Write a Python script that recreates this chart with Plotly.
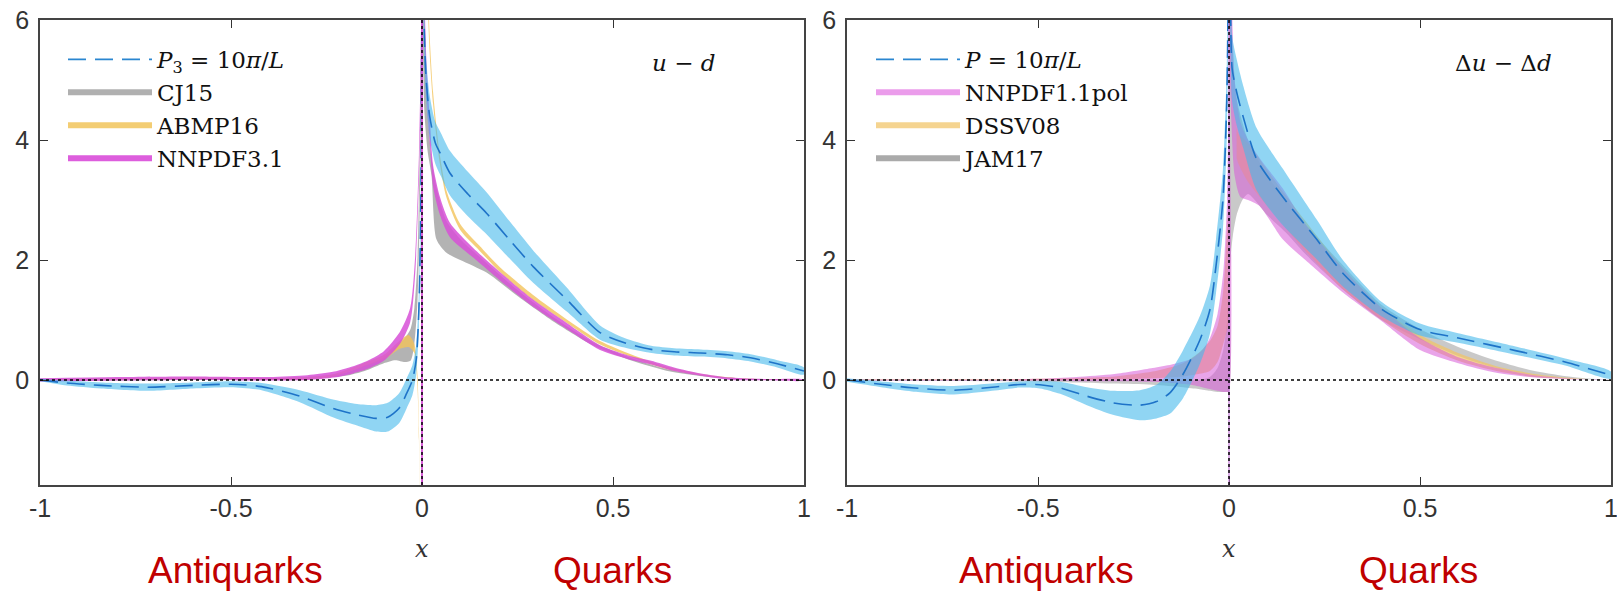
import numpy as np
import plotly.graph_objects as go

# ---------------- LEFT PANEL: u - d ----------------
# lattice P3 = 10pi/L (centre + half width)
L_lat_xn = [-1, -0.93, -0.84, -0.72, -0.6, -0.5, -0.42, -0.32, -0.23, -0.17, -0.12, -0.09, -0.06, -0.04, -0.025, -0.015, -0.008, -0.003, 0]
L_lat_cn = [0, -0.05, -0.09, -0.12, -0.09, -0.07, -0.11, -0.27, -0.48, -0.58, -0.64, -0.62, -0.47, -0.22, 0.0, 0.35, 1.2, 3.0, 7.0]
L_lat_hn = [0.02, 0.04, 0.05, 0.06, 0.05, 0.05, 0.06, 0.1, 0.15, 0.18, 0.22, 0.24, 0.25, 0.25, 0.25, 0.25, 0.3, 0.4, 0.5]
L_lat_xp = [0.0, 0.004, 0.01, 0.02, 0.035, 0.05, 0.073, 0.12, 0.169, 0.23, 0.291, 0.379, 0.466, 0.53, 0.6, 0.66, 0.73, 0.8, 0.86, 0.93, 1.0]
L_lat_cp = [9.0, 6.4, 5.1, 4.4, 3.95, 3.75, 3.45, 3.1, 2.78, 2.33, 1.89, 1.34, 0.79, 0.62, 0.51, 0.47, 0.45, 0.42, 0.37, 0.27, 0.15]
L_lat_hp = [0.5, 0.4, 0.35, 0.35, 0.35, 0.36, 0.37, 0.37, 0.35, 0.31, 0.27, 0.2, 0.12, 0.08, 0.06, 0.06, 0.06, 0.06, 0.06, 0.06, 0.06]

# CJ15 (lower / upper)
cj_xn = [-1, -0.6, -0.4, -0.3, -0.2, -0.15, -0.1, -0.07, -0.045, -0.03, -0.02, -0.012, -0.006, -0.002, 0]
cj_lon = [-0.01, 0.0, 0.0, 0.02, 0.07, 0.15, 0.28, 0.33, 0.3, 0.32, 0.6, 1.3, 2.8, 5.0, 8.0]
cj_hin = [0.02, 0.03, 0.03, 0.05, 0.12, 0.24, 0.38, 0.55, 0.7, 0.85, 1.2, 2.0, 3.8, 6.0, 9.0]
cj_xp = [0, 0.006, 0.015, 0.025, 0.038, 0.064, 0.1, 0.169, 0.25, 0.35, 0.45, 0.55, 0.65, 0.75, 0.85, 1]
cj_lop = [7.0, 4.5, 3.8, 3.4, 2.34, 2.12, 2.0, 1.79, 1.4, 0.95, 0.57, 0.32, 0.14, 0.05, 0.01, 0]
cj_hip = [9.0, 6.2, 4.5, 3.7, 3.2, 2.65, 2.35, 1.95, 1.5, 1.02, 0.62, 0.36, 0.17, 0.07, 0.02, 0]

# ABMP16
ab_xn = [-1, -0.6, -0.4, -0.3, -0.23, -0.145, -0.1, -0.058, -0.035, -0.02, -0.012, -0.008, -0.005, 0]
ab_lon = [-0.01, 0.01, 0.0, 0.01, 0.06, 0.24, 0.34, 0.52, 0.55, 0.45, -0.1, -1.0, -3.0, -8.0]
ab_hin = [0.01, 0.04, 0.03, 0.05, 0.1, 0.3, 0.42, 0.66, 0.75, 0.6, 0.1, -0.8, -2.8, -7.8]
ab_xp = [0, 0.008, 0.015, 0.02, 0.029, 0.047, 0.064, 0.1, 0.15, 0.204, 0.29, 0.379, 0.466, 0.55, 0.63, 0.73, 0.82, 0.9, 1]
ab_lop = [11.8, 8.8, 6.3, 5.45, 4.6, 3.6, 3.04, 2.5, 2.16, 1.8, 1.34, 0.95, 0.59, 0.38, 0.2, 0.08, 0.025, 0.005, 0]
ab_hip = [12.2, 9.2, 6.7, 5.75, 4.8, 3.74, 3.16, 2.6, 2.24, 1.88, 1.42, 1.01, 0.65, 0.42, 0.24, 0.1, 0.035, 0.015, 0]

# NNPDF3.1 (centre + half width)
nn31_xn = [-1, -0.8, -0.6, -0.4, -0.3, -0.23, -0.18, -0.14, -0.1, -0.058, -0.031, -0.018, -0.008, -0.003, 0]
nn31_cn = [0.0, 0.02, 0.03, 0.02, 0.04, 0.09, 0.17, 0.26, 0.40, 0.70, 1.08, 1.9, 3.56, 5.2, 9.0]
nn31_hn = [0.03, 0.03, 0.03, 0.03, 0.04, 0.05, 0.06, 0.07, 0.08, 0.1, 0.12, 0.15, 0.2, 0.3, 0.4]
nn31_xp = [0, 0.005, 0.012, 0.021, 0.029, 0.047, 0.073, 0.134, 0.204, 0.291, 0.379, 0.466, 0.55, 0.6, 0.66, 0.73, 0.81, 0.9, 1]
nn31_cp = [9.0, 6.5, 5.0, 4.1, 3.4, 2.9, 2.5, 2.12, 1.73, 1.28, 0.9, 0.54, 0.36, 0.29, 0.18, 0.09, 0.02, 0.005, 0]
nn31_hp = [0.3, 0.3, 0.25, 0.2, 0.18, 0.15, 0.12, 0.08, 0.07, 0.06, 0.05, 0.04, 0.03, 0.03, 0.03, 0.02, 0.02, 0.01, 0.01]

# ---------------- RIGHT PANEL: Delta u - Delta d ----------------
R_lat_xn = [-1, -0.9, -0.83, -0.72, -0.62, -0.547, -0.495, -0.442, -0.372, -0.304, -0.233, -0.19, -0.154, -0.12, -0.076, -0.05, -0.034, -0.016, -0.006, 0]
R_lat_cn = [0, -0.08, -0.13, -0.17, -0.12, -0.075, -0.08, -0.13, -0.27, -0.38, -0.42, -0.36, -0.21, 0.1, 0.67, 1.17, 1.9, 3.0, 4.6, 8.0]
R_lat_hn = [0.03, 0.05, 0.06, 0.07, 0.06, 0.05, 0.06, 0.1, 0.15, 0.2, 0.25, 0.28, 0.35, 0.4, 0.4, 0.4, 0.45, 0.5, 0.6, 0.7]
R_lat_xp = [0, 0.004, 0.008, 0.02, 0.037, 0.073, 0.141, 0.23, 0.298, 0.4, 0.5, 0.6, 0.75, 0.88, 1.0]
R_lat_cp = [8.0, 6.2, 5.2, 4.8, 4.39, 3.67, 3.05, 2.34, 1.78, 1.18, 0.84, 0.7, 0.49, 0.3, 0.08]
R_lat_hp = [0.7, 0.6, 0.55, 0.55, 0.52, 0.52, 0.47, 0.33, 0.22, 0.12, 0.1, 0.08, 0.07, 0.06, 0.06]

# NNPDF1.1pol
pol_xn = [-1, -0.6, -0.5, -0.4, -0.3, -0.2, -0.15, -0.1, -0.07, -0.05, -0.03, -0.015, -0.005, 0]
pol_lon = [-0.01, -0.01, -0.01, -0.02, -0.02, -0.03, -0.05, -0.08, -0.12, -0.15, -0.18, -0.2, -0.2, -0.2]
pol_hin = [0.01, 0.01, 0.02, 0.05, 0.1, 0.2, 0.26, 0.35, 0.5, 0.7, 1.1, 1.8, 3.0, 5.0]
pol_xp = [0, 0.005, 0.015, 0.03, 0.05, 0.08, 0.14, 0.2, 0.3, 0.4, 0.5, 0.6, 0.7, 0.8, 0.9, 1]
pol_lop = [6.0, 4.5, 3.4, 3.05, 3.0, 2.9, 2.35, 2.0, 1.45, 0.98, 0.5, 0.28, 0.12, 0.04, 0.01, 0]
pol_hip = [9.0, 7.0, 5.0, 4.3, 4.0, 3.7, 3.2, 2.6, 1.85, 1.2, 0.7, 0.38, 0.2, 0.08, 0.02, 0]

# DSSV08
ds_xn = [-1, -0.5, -0.3, -0.2, -0.12, -0.08, -0.05, -0.03, -0.015, 0]
ds_lon = [0, 0.0, 0.01, 0.03, 0.06, 0.1, 0.15, 0.3, 0.6, 1.0]
ds_hin = [0.01, 0.02, 0.06, 0.14, 0.28, 0.45, 0.65, 0.9, 1.5, 3.0]
ds_xp = [0.02, 0.025, 0.05, 0.1, 0.14, 0.2, 0.3, 0.4, 0.5, 0.6, 0.7, 0.8, 0.9, 1]
ds_lop = [3.7, 3.6, 3.3, 2.9, 2.6, 2.15, 1.5, 1.0, 0.6, 0.32, 0.15, 0.05, 0.015, 0]
ds_hip = [4.2, 4.1, 3.95, 3.5, 3.15, 2.65, 1.85, 1.2, 0.75, 0.45, 0.23, 0.1, 0.03, 0]

# JAM17
jam_xn = [-1, -0.6, -0.4, -0.3, -0.2, -0.12, -0.08, -0.05, -0.03, -0.015, -0.005, 0]
jam_lon = [-0.01, -0.02, -0.04, -0.06, -0.08, -0.12, -0.15, -0.18, -0.2, -0.2, -0.2, -0.2]
jam_hin = [0.01, 0.0, 0.0, 0.0, 0.0, 0.0, 0.0, 0.05, 0.2, 0.5, 1.0, 2.0]
jam_xp = [0, 0.004, 0.01, 0.02, 0.035, 0.05, 0.1, 0.15, 0.2, 0.3, 0.4, 0.5, 0.6, 0.7, 0.8, 0.9, 1]
jam_lop = [1.5, 2.0, 2.4, 2.75, 3.0, 3.1, 2.75, 2.45, 2.1, 1.5, 1.0, 0.68, 0.4, 0.2, 0.08, 0.02, 0]
jam_hip = [9.0, 7.0, 5.5, 4.7, 4.3, 4.0, 3.4, 3.0, 2.6, 1.9, 1.25, 0.85, 0.55, 0.32, 0.15, 0.05, 0]

# legend / annotation text
left_names = ["<i>P</i><sub>3</sub> = 10<i>π</i>/<i>L</i>", "CJ15", "ABMP16", "NNPDF3.1"]
right_names = ["<i>P</i> = 10<i>π</i>/<i>L</i>", "NNPDF1.1pol", "DSSV08", "JAM17"]
x_ticks = [-1, -0.5, 0, 0.5, 1]
x_ticktext = ["-1", "-0.5", "0", "0.5", "1"]
y_ticks = [0, 2, 4, 6]

LAT_FILL = "rgba(70,185,235,0.6)"
LAT_LINE = "rgb(30,115,200)"


def band_lohi(segments):
    xs, ys = [], []
    for x, lo, hi in segments:
        xs += list(x) + list(x[::-1]) + [None]
        ys += list(hi) + list(lo[::-1]) + [None]
    return xs, ys


def band_c(segments):
    out = []
    for x, c, h in segments:
        c = np.array(c, float); h = np.array(h, float)
        out.append((x, list(c - h), list(c + h)))
    return band_lohi(out)


fig = go.Figure()


def add_band(xs, ys, color, xa, ya):
    fig.add_trace(go.Scatter(x=xs, y=ys, mode="lines", fill="toself", fillcolor=color,
                             line=dict(width=0, shape="spline", smoothing=0.7),
                             hoverinfo="skip", showlegend=False, xaxis=xa, yaxis=ya))


def add_center(segs, xa, ya):
    xs, ys = [], []
    for x, c in segs:
        xs += list(x) + [None]
        ys += list(c) + [None]
    fig.add_trace(go.Scatter(x=xs, y=ys, mode="lines",
                             line=dict(color=LAT_LINE, width=1.6, dash="18px,9px", shape="spline", smoothing=0.7),
                             hoverinfo="skip", showlegend=False, xaxis=xa, yaxis=ya))


# left panel bands
add_band(*band_lohi([(cj_xn, cj_lon, cj_hin), (cj_xp, cj_lop, cj_hip)]), "rgba(160,160,160,0.8)", "x", "y")
add_band(*band_lohi([(ab_xn, ab_lon, ab_hin), (ab_xp, ab_lop, ab_hip)]), "rgba(242,195,90,0.8)", "x", "y")
add_band(*band_c([(nn31_xn, nn31_cn, nn31_hn), (nn31_xp, nn31_cp, nn31_hp)]), "rgba(215,80,215,0.85)", "x", "y")
add_band(*band_c([(L_lat_xn, L_lat_cn, L_lat_hn), (L_lat_xp, L_lat_cp, L_lat_hp)]), LAT_FILL, "x", "y")
add_center([(L_lat_xn, L_lat_cn), (L_lat_xp, L_lat_cp)], "x", "y")

# right panel bands
add_band(*band_lohi([(jam_xn, jam_lon, jam_hin), (jam_xp, jam_lop, jam_hip)]), "rgba(165,165,165,0.6)", "x2", "y2")
add_band(*band_lohi([(ds_xn, ds_lon, ds_hin), (ds_xp, ds_lop, ds_hip)]), "rgba(242,195,100,0.7)", "x2", "y2")
add_band(*band_lohi([(pol_xn, pol_lon, pol_hin), (pol_xp, pol_lop, pol_hip)]), "rgba(215,90,215,0.55)", "x2", "y2")
add_band(*band_c([(R_lat_xn, R_lat_cn, R_lat_hn), (R_lat_xp, R_lat_cp, R_lat_hp)]), LAT_FILL, "x2", "y2")
add_center([(R_lat_xn, R_lat_cn), (R_lat_xp, R_lat_cp)], "x2", "y2")

# legend entries
left_cols = ["#2a86d0", "#b0b0b0", "#f3cd73", "#dd5edd"]
right_cols = ["#2a86d0", "#eb9ceb", "#f5d490", "#aaaaaa"]
for names, cols, leg, xa, ya in [(left_names, left_cols, "legend", "x", "y"),
                                 (right_names, right_cols, "legend2", "x2", "y2")]:
    for i, (n, c) in enumerate(zip(names, cols)):
        if i == 0:
            ln = dict(color=c, width=1.8, dash="18px,9px")
        else:
            ln = dict(color=c, width=6)
        fig.add_trace(go.Scatter(x=[None], y=[None], mode="lines", name=n, line=ln,
                                 legend=leg, legendgroup=leg + str(i), xaxis=xa, yaxis=ya))

W, H = 1617, 593
dom1 = [40 / W, 804 / W]
dom2 = [847 / W, 1611 / W]
ydom = [(H - 485) / H, (H - 20) / H]

tickfont = dict(family="Liberation Sans, Arial, sans-serif", size=25, color="#333")
axcommon = dict(showline=True, linecolor="#444", linewidth=1.5, mirror="ticks", ticks="inside",
                ticklen=8, tickwidth=1.3, tickcolor="#333", showgrid=False, zeroline=False,
                tickfont=tickfont, automargin=False, ticklabeloverflow="allow")

legfont = dict(family="DejaVu Serif, serif", size=23, color="#111")
fig.update_layout(
    width=W, height=H, margin=dict(l=0, r=0, t=0, b=0, pad=0, autoexpand=False),
    paper_bgcolor="white", plot_bgcolor="white",
    xaxis=dict(domain=dom1, range=[-1, 1], tickvals=x_ticks, ticktext=x_ticktext, anchor="y", **axcommon),
    yaxis=dict(domain=ydom, range=[-1.75, 6], tickvals=y_ticks, anchor="x", ticklabelstandoff=4, **axcommon),
    xaxis2=dict(domain=dom2, range=[-1, 1], tickvals=x_ticks, ticktext=x_ticktext, anchor="y2", **axcommon),
    yaxis2=dict(domain=ydom, range=[-1.75, 6], tickvals=y_ticks, anchor="x2", ticklabelstandoff=4, **axcommon),
    legend=dict(x=63 / W, y=(H - 38) / H, xanchor="left", yanchor="top", bgcolor="rgba(0,0,0,0)",
                font=legfont, itemwidth=84, tracegroupgap=0),
    legend2=dict(x=871 / W, y=(H - 38) / H, xanchor="left", yanchor="top", bgcolor="rgba(0,0,0,0)",
                 font=legfont, itemwidth=84, tracegroupgap=0),
    showlegend=True,
)

# reference lines (zero lines, dotted)
for xr, yr in [("x", "y"), ("x2", "y2")]:
    mag = "rgba(215,80,215,0.9)" if xr == "x" else "rgba(200,120,220,0.6)"
    fig.add_shape(type="line", xref=xr, yref=yr + " domain", x0=0, x1=0, y0=0, y1=1,
                  line=dict(color=mag, width=2), layer="above")
    fig.add_shape(type="line", xref=xr, yref=yr + " domain", x0=0, x1=0, y0=0, y1=1,
                  line=dict(color="black", width=1.5, dash="3px,3px"), layer="above")
    fig.add_shape(type="line", xref=xr + " domain", yref=yr, x0=0, x1=1, y0=0, y1=0,
                  line=dict(color="black", width=1.5, dash="3px,3px"), layer="above")

red = dict(family="Liberation Sans, Arial, sans-serif", size=37, color="#c00000")
ann = [
    dict(text="<i>u</i> − <i>d</i>", x=683 / W, y=1 - 63 / H, yanchor="middle", font=dict(family="DejaVu Serif, serif", size=23, color="#111")),
    dict(text="Δ<i>u</i> − Δ<i>d</i>", x=1503 / W, y=1 - 63 / H, yanchor="middle", font=dict(family="DejaVu Serif, serif", size=23, color="#111")),
    dict(text="<i>x</i>", x=422 / W, y=1 - 549 / H, yanchor="middle", font=dict(family="DejaVu Serif, serif", size=24, color="#333")),
    dict(text="<i>x</i>", x=1229 / W, y=1 - 549 / H, yanchor="middle", font=dict(family="DejaVu Serif, serif", size=24, color="#333")),
    dict(text="Antiquarks", x=236 / W, y=0, yanchor="bottom", font=red),
    dict(text="Quarks", x=612 / W, y=0, yanchor="bottom", font=red),
    dict(text="Antiquarks", x=1046 / W, y=0, yanchor="bottom", font=red),
    dict(text="Quarks", x=1418 / W, y=0, yanchor="bottom", font=red),
]
for a in ann:
    fig.add_annotation(xref="paper", yref="paper", showarrow=False, xanchor="center", **a)

fig.write_html("out.html", config={"displayModeBar": False},
               post_script="document.body.style.margin='0';document.body.style.overflow='hidden';")
